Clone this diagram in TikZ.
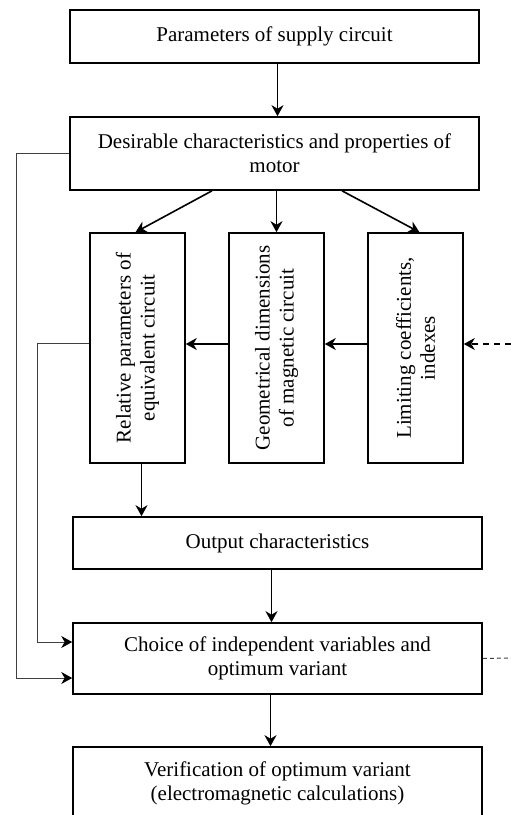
\documentclass[tikz,border=0pt]{standalone}
\usepackage{fontspec}
\setmainfont{Liberation Serif}
\usetikzlibrary{arrows.meta,calc}
\begin{document}
\begin{tikzpicture}[x=1pt,y=-1pt,
  box/.style={draw,line width=1.6pt,inner sep=0pt,align=center,font=\fontsize{21}{24}\selectfont},
  vtext/.style={rotate=90,inner sep=0pt,align=center,font=\fontsize{21}{24}\selectfont},
  arr/.style={line width=1.6pt,-{Stealth[length=11pt,width=12pt,inset=3.5pt]}},
  thinarr/.style={line width=1pt,black!75,-{Stealth[length=11pt,width=12pt,inset=3.5pt,black]}},
  thinl/.style={line width=1pt,black!75}]
\useasboundingbox (0,0) rectangle (511,815);
\clip (0,0) rectangle (511,815);
\node[box,minimum width=409pt,minimum height=53pt] (box1) at (274.5,36.5) {Parameters of supply circuit};
\node[box,minimum width=409pt,minimum height=73pt] (box2) at (274.5,153.5) {Desirable characteristics and properties of\\motor};
\node[box,minimum width=95pt,minimum height=230pt] (A) at (137.5,348) {};
\node[box,minimum width=95pt,minimum height=230pt] (B) at (276.5,348) {};
\node[box,minimum width=95pt,minimum height=230pt] (C) at (415.5,348) {};
\node[vtext] (Atext) at (A.center) {Relative parameters of\\equivalent circuit};
\node[vtext] (Btext) at (B.center) {Geometrical dimensions\\of magnetic circuit};
\node[vtext] (Ctext) at (C.center) {Limiting coefficients,\\indexes};
\node[box,minimum width=409pt,minimum height=52pt] (out) at (277.5,543) {Output characteristics};
\node[box,minimum width=409pt,minimum height=71pt] (choice) at (277.5,658.5) {Choice of independent variables and\\optimum variant};
\node[box,minimum width=409pt,minimum height=72pt] (verif) at (277.5,783) {Verification of optimum variant\\(electromagnetic calculations)};
% arrows
\draw[arr] ([xshift=3pt]box1.south) -- ([xshift=3pt]box2.north);
\draw[arr] ([xshift=-62.5pt]box2.south) -- ([xshift=-2pt]A.north);
\draw[arr] (box2.south -| B.north) -- (B.north);
\draw[arr] ([xshift=67.5pt]box2.south) -- ([xshift=4pt]C.north);
\draw[arr] ([yshift=4pt]C.west) -- ([yshift=4pt]B.east);
\draw[arr] ([yshift=4pt]B.west) -- ([yshift=4pt]A.east);
\coordinate (dashin) at (511,344);
\draw[arr,dashed,dash pattern=on 6pt off 5pt] (dashin) -- (dashin -| C.east);
\draw[arr] ([xshift=4pt]A.south) -- ([xshift=4pt]A.south |- out.north);
\draw[arr] ([xshift=-6pt]out.south) -- ([xshift=-6pt]choice.north);
\draw[arr] ([xshift=-7pt]choice.south) -- ([xshift=-7pt]verif.north);
% feedback lines
\coordinate (f1) at (16,678);
\draw[thinarr] (box2.west) -| (f1) -- (f1 -| choice.west);
\coordinate (f2) at (37,642);
\draw[thinarr] ([yshift=5pt]A.west) -| (f2) -- (f2 -| choice.west);
\coordinate (dashout) at (511,658);
\draw[thinl,dashed,dash pattern=on 4pt off 3pt] (choice.east) -- (dashout);
\end{tikzpicture}
\end{document}
